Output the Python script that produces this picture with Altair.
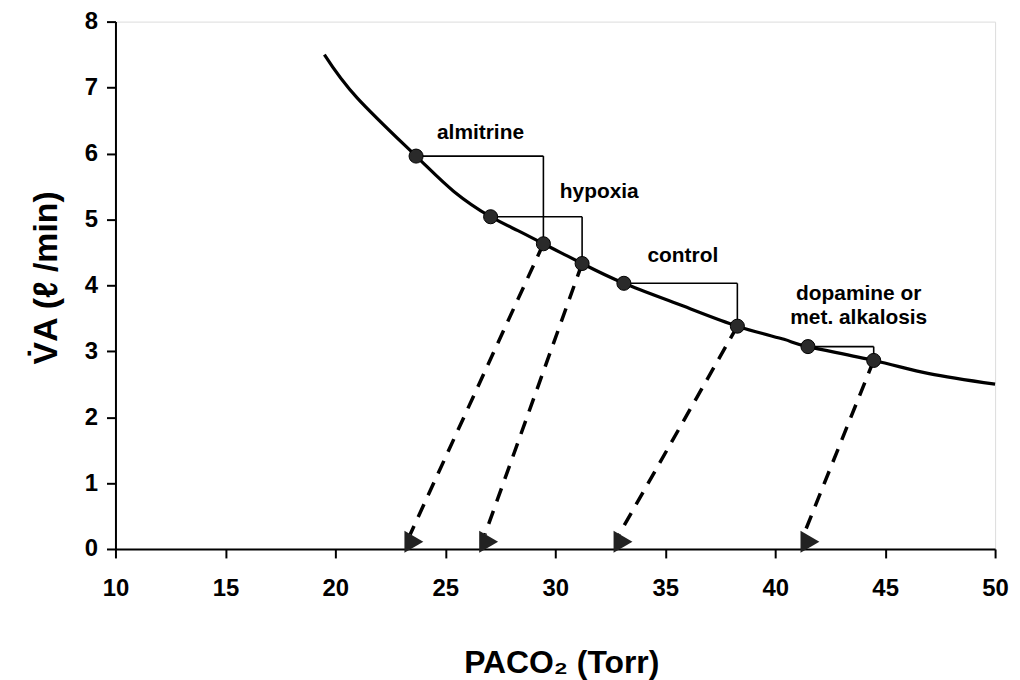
import altair as alt
import pandas as pd

# Curve (PaCO2, VA)
curve_x = [19.5, 21.0, 23.67, 25.4, 27.06, 28.3, 29.46, 30.4, 31.22, 33.12, 35.7, 38.28, 40.4, 41.49, 44.48, 47.0, 50.0]
curve_y = [7.50, 6.84, 5.96, 5.42, 5.04, 4.83, 4.63, 4.47, 4.33, 4.03, 3.70, 3.38, 3.18, 3.07, 2.86, 2.66, 2.50]

# Conditions: start point -> end point
cond_names = ["almitrine", "hypoxia", "control", "dopamine"]
start_x = [23.67, 27.06, 33.12, 41.49]
start_y = [5.96, 5.04, 4.03, 3.07]
end_x = [29.46, 31.22, 38.28, 44.48]
end_y = [4.63, 4.33, 3.38, 2.86]
arrow_x = [23.4, 26.8, 32.9, 41.3]
arrow_y = [0.22, 0.22, 0.22, 0.22]
head_x = [23.57, 26.97, 33.08, 41.58]
head_y = [0.11, 0.11, 0.11, 0.11]

# Annotation labels
label_text = ["almitrine", "hypoxia", "control", "dopamine or", "met. alkalosis"]
label_x = [26.6, 32.0, 35.8, 43.8, 43.8]
label_y = [6.22, 5.33, 4.36, 3.77, 3.42]

FONT = "Liberation Sans"

curve = pd.DataFrame({"x": curve_x, "y": curve_y})
cond = pd.DataFrame({"name": cond_names, "sx": start_x, "sy": start_y, "ex": end_x, "ey": end_y,
                     "ax": arrow_x, "ay": arrow_y, "hx": head_x, "hy": head_y})
dots = pd.DataFrame({"x": start_x + end_x, "y": start_y + end_y})
labels = pd.DataFrame({"t": label_text, "x": label_x, "y": label_y})

xs = alt.Scale(domain=[10, 50], nice=False, zero=False)
ys = alt.Scale(domain=[0, 8], nice=False)

xaxis = alt.Axis(values=list(range(10, 51, 5)), format="d", grid=False, title="PACO₂ (Torr)",
                 titleFont=FONT, titleFontSize=32, titleFontWeight="bold", titleColor="black",
                 titleX=448, titleY=124, titleBaseline="alphabetic", titleAlign="center",
                 labelFont=FONT, labelFontSize=24, labelFontWeight="bold", labelColor="black",
                 labelPadding=19, labelFlush=False, labelOverlap=False,
                 tickSize=9, tickWidth=2, tickColor="black",
                 domainColor="black", domainWidth=2)
yaxis = alt.Axis(values=list(range(0, 9)), format="d", grid=False, title="V̇A (ℓ /min)",
                 titleFont=FONT, titleFontSize=34, titleFontWeight="bold", titleColor="black",
                 titleAngle=270, titleX=-59, titleY=257, titleBaseline="alphabetic", titleAlign="center",
                 labelFont=FONT, labelFontSize=24, labelFontWeight="bold", labelColor="black",
                 labelPadding=9, labelFlush=False, labelOverlap=False,
                 tickSize=9, tickWidth=2, tickColor="black",
                 domainColor="black", domainWidth=2)

line = alt.Chart(curve).mark_line(color="black", strokeWidth=3.2, interpolate="natural").encode(
    x=alt.X("x:Q", scale=xs, axis=xaxis),
    y=alt.Y("y:Q", scale=ys, axis=yaxis),
)

hrule = alt.Chart(cond).mark_rule(color="black", strokeWidth=1.6).encode(
    x=alt.X("sx:Q", scale=xs), x2="ex:Q", y=alt.Y("sy:Q", scale=ys))
vrule = alt.Chart(cond).mark_rule(color="black", strokeWidth=1.6).encode(
    x=alt.X("ex:Q", scale=xs), y=alt.Y("sy:Q", scale=ys), y2="ey:Q")

dashed = alt.Chart(cond).mark_rule(color="black", strokeWidth=3.5, strokeDash=[14, 10]).encode(
    x=alt.X("ex:Q", scale=xs), y=alt.Y("ey:Q", scale=ys), x2="ax:Q", y2="ay:Q")

heads = alt.Chart(cond).mark_point(shape="triangle-right", filled=True, size=480, color="#222222", opacity=1).encode(
    x=alt.X("hx:Q", scale=xs), y=alt.Y("hy:Q", scale=ys))

pts = alt.Chart(dots).mark_circle(size=200, color="#2a2a2a", opacity=1, stroke="black", strokeWidth=1).encode(
    x=alt.X("x:Q", scale=xs), y=alt.Y("y:Q", scale=ys))

txt = alt.Chart(labels).mark_text(font=FONT, fontSize=21, fontWeight="bold", color="black", align="center",
                                  baseline="alphabetic").encode(
    x=alt.X("x:Q", scale=xs), y=alt.Y("y:Q", scale=ys), text="t:N")

chart = alt.layer(line, hrule, vrule, dashed, heads, pts, txt).properties(
    width=884, height=530,
    autosize=alt.AutoSizeParams(type="none"),
    padding={"left": 108, "top": 12, "right": 17, "bottom": 130},
).configure_view(stroke=None).configure(background="white")

chart.save("out.html", embed_options={"renderer": "svg", "actions": False})
